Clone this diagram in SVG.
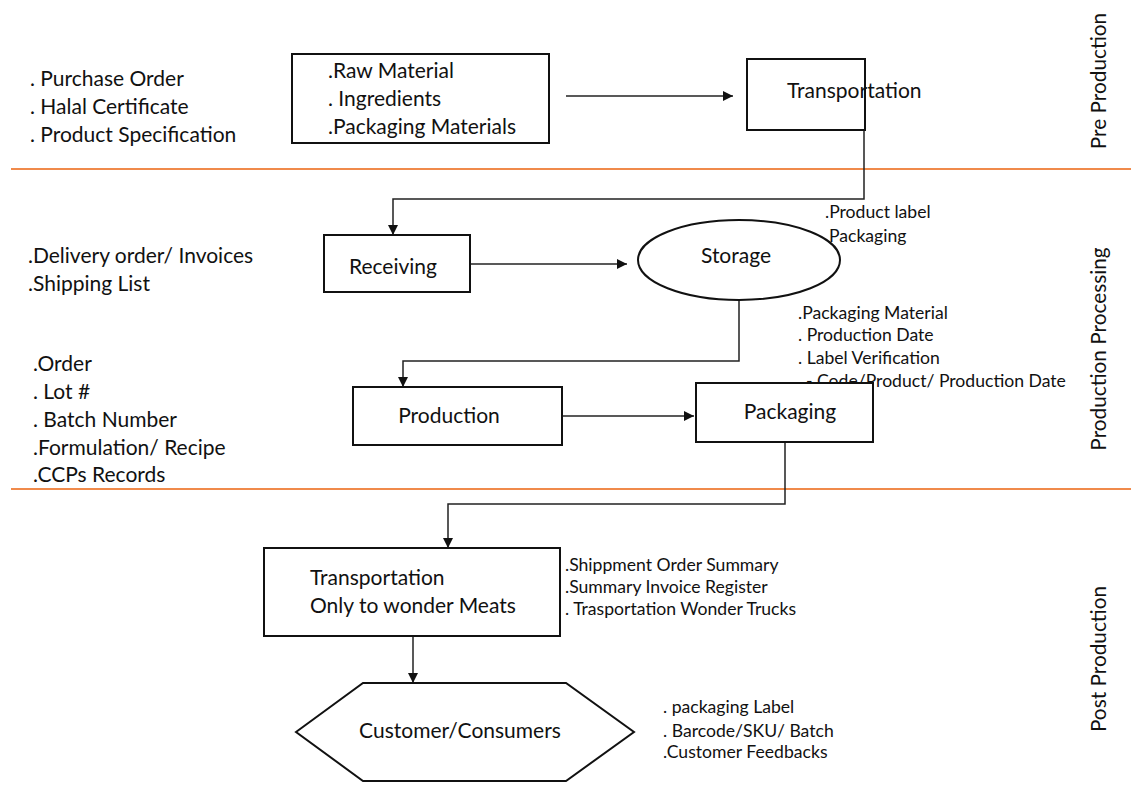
<svg xmlns="http://www.w3.org/2000/svg" width="1131" height="785" viewBox="0 0 1131 785">
<style>
text{font-family:Lato,"Liberation Sans",sans-serif;fill:#111;}
.m{font-size:21px;}
.s{font-size:17.6px;}
.v{font-size:20.8px;}
.box{fill:#fff;stroke:#111;stroke-width:2;}
.c{fill:none;stroke:#222;stroke-width:1.5;}
.sep{stroke:#f08a4b;stroke-width:2;}
</style>
<defs>
<marker id="ah" viewBox="0 0 10 10" refX="10" refY="5" markerWidth="10" markerHeight="10" markerUnits="userSpaceOnUse" orient="auto">
<path d="M0,0 L10,5 L0,10 z" fill="#111"/>
</marker>
</defs>
<rect width="1131" height="785" fill="#fff"/>
<g id="separators">
<line class="sep" x1="11" y1="169" x2="1131" y2="169"/>
<line class="sep" x1="11" y1="489" x2="1131" y2="489"/>
</g>
<g id="phase-labels">
<text class="v" transform="translate(1106,81) rotate(-90)" text-anchor="middle">Pre Production</text>
<text class="v" transform="translate(1106,349) rotate(-90)" text-anchor="middle">Production Processing</text>
<text class="v" transform="translate(1106,659) rotate(-90)" text-anchor="middle">Post Production</text>
</g>
<g id="notes">
<text class="m" x="30" y="86">. Purchase Order</text>
<text class="m" x="30" y="114">. Halal Certificate</text>
<text class="m" x="30" y="142">. Product Specification</text>
<text class="m" x="28" y="263">.Delivery order/ Invoices</text>
<text class="m" x="28" y="291">.Shipping List</text>
<text class="m" x="33" y="371">.Order</text>
<text class="m" x="33" y="399">. Lot #</text>
<text class="m" x="33" y="427">. Batch Number</text>
<text class="m" x="33" y="455">.Formulation/ Recipe</text>
<text class="m" x="33" y="482">.CCPs Records</text>
<text class="s" x="825" y="218">.Product label</text>
<text class="s" x="829" y="242">Packaging</text>
<text class="s" x="798" y="319">.Packaging Material</text>
<text class="s" x="798" y="341">. Production Date</text>
<text class="s" x="798" y="364">. Label Verification</text>
<text class="s" x="806" y="387">- Code/Product/ Production Date</text>
<text class="s" x="565" y="571">.Shippment Order Summary</text>
<text class="s" x="565" y="593">.Summary Invoice Register</text>
<text class="s" x="565" y="615">. Trasportation Wonder Trucks</text>
<text class="s" x="663" y="713">. packaging Label</text>
<text class="s" x="663" y="737">. Barcode/SKU/ Batch</text>
<text class="s" x="663" y="758">.Customer Feedbacks</text>
</g>
<g id="connectors">
<line class="c" x1="566" y1="96" x2="733" y2="96" marker-end="url(#ah)"/>
<polyline class="c" points="864,130 864,199 393,199 393,235" marker-end="url(#ah)"/>
<line class="c" x1="470" y1="264" x2="627" y2="264" marker-end="url(#ah)"/>
<polyline class="c" points="739,300 739,361 403,361 403,387" marker-end="url(#ah)"/>
<line class="c" x1="562" y1="416" x2="694" y2="416" marker-end="url(#ah)"/>
<polyline class="c" points="785,442 785,504 448,504 448,548" marker-end="url(#ah)"/>
<line class="c" x1="413" y1="636" x2="413" y2="683" marker-end="url(#ah)"/>
</g>
<g id="raw-materials">
<rect class="box" x="292" y="54" width="257" height="89"/>
<text class="m" x="328" y="78">.Raw Material</text>
<text class="m" x="328" y="106">. Ingredients</text>
<text class="m" x="328" y="134">.Packaging Materials</text>
</g>
<g id="transportation-1">
<rect class="box" x="747" y="59" width="118" height="71"/>
<text class="m" x="787" y="98">Transportation</text>
</g>
<g id="receiving">
<rect class="box" x="324" y="235" width="146" height="57"/>
<text class="m" x="393" y="274" text-anchor="middle">Receiving</text>
</g>
<g id="storage">
<ellipse class="box" cx="739" cy="260" rx="101" ry="40"/>
<text class="m" x="736" y="263" text-anchor="middle">Storage</text>
</g>
<g id="production">
<rect class="box" x="353" y="387" width="209" height="58"/>
<text class="m" x="449" y="423" text-anchor="middle">Production</text>
</g>
<g id="packaging">
<rect class="box" x="696" y="383" width="177" height="59"/>
<text class="m" x="790" y="419" text-anchor="middle">Packaging</text>
</g>
<g id="transportation-2">
<rect class="box" x="264" y="548" width="296" height="88"/>
<text class="m" x="310" y="585">Transportation</text>
<text class="m" x="310" y="613">Only to wonder Meats</text>
</g>
<g id="customers">
<polygon class="box" points="296,732 363,683 566,683 634,732 566,781 363,781"/>
<text class="m" x="460" y="738" text-anchor="middle">Customer/Consumers</text>
</g>
</svg>
